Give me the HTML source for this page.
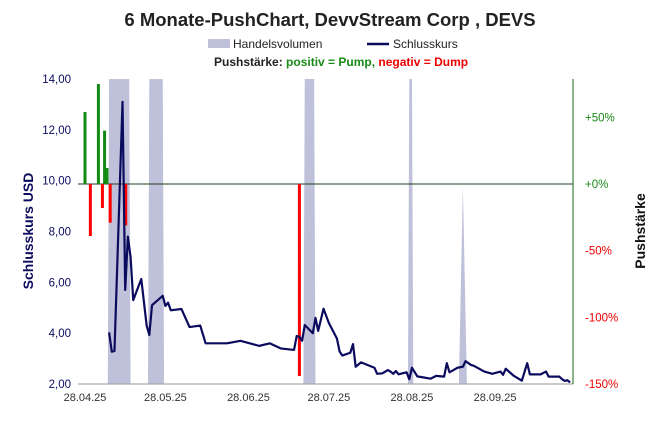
<!DOCTYPE html>
<html><head><meta charset="utf-8"><style>
body{margin:0;background:#fff;font-family:"Liberation Sans",sans-serif}
</style></head><body>
<svg id="chart" width="661" height="430" xmlns="http://www.w3.org/2000/svg" font-family="Liberation Sans, sans-serif">
<text x="330" y="26" text-anchor="middle" font-size="18.5" font-weight="bold" fill="#222">6 Monate-PushChart, DevvStream Corp , DEVS</text>
<g>
<rect x="208" y="39" width="22" height="9" fill="#bfc0da"/>
<text x="233" y="48" font-size="12" fill="#222">Handelsvolumen</text>
<line x1="367" y1="44" x2="389" y2="44" stroke="#0b0b5e" stroke-width="2.5"/>
<text x="393" y="48" font-size="12" fill="#222">Schlusskurs</text>
<text x="214" y="66" font-size="12" font-weight="bold"><tspan fill="#222">Pushstärke: </tspan><tspan fill="#1a8a1a">positiv = Pump,</tspan><tspan fill="#222"> </tspan><tspan fill="#ee0000">negativ = Dump</tspan></text>
</g>
<text transform="translate(33,231) rotate(-90)" text-anchor="middle" font-size="14" font-weight="bold" fill="#0b0b5e">Schlusskurs USD</text>
<text transform="translate(645,231) rotate(-90)" text-anchor="middle" font-size="14" font-weight="bold" fill="#111">Pushstärke</text>
<g id="vol"></g>
<g id="axes"></g>
<g id="push"></g>
<g id="line"></g>
</svg>
<script>
const xTickLabels=["28.04.25","28.05.25","28.06.25","28.07.25","28.08.25","28.09.25"];
const xTickDays=[0,30,61,91,122,153];
const yTickLabels=["2,00","4,00","6,00","8,00","10,00","12,00","14,00"];
const yTickValues=[2,4,6,8,10,12,14];
const rTickLabels=["+50%","+0%","-50%","-100%","-150%"];
const rTickValues=[50,0,-50,-100,-150];
const priceDays=[9,10,11,14,15,16,17,18,21,23,24,25,29,30,31,32,36,39,43,45,50,53,58,65,69,73,78,79,80,81,82,85,86,87,89,91,94,95,96,99,100,101,103,108,109,111,113,114,115,116,117,120,121,122,124,129,131,134,135,136,139,141,142,144,145,149,152,155,156,157,160,163,165,166,170,172,173,177,178,179,180,181];
const priceVals=[4.03,3.27,3.30,13.1,5.7,7.8,7.0,5.3,6.13,4.3,3.93,5.1,5.47,5.07,5.2,4.9,4.95,4.24,4.3,3.6,3.6,3.6,3.7,3.5,3.6,3.4,3.34,3.89,3.86,3.7,4.32,4.0,4.6,4.09,4.96,4.4,3.79,3.28,3.12,3.23,3.57,2.68,2.85,2.64,2.4,2.42,2.55,2.49,2.4,2.51,2.38,2.46,2.19,2.64,2.3,2.21,2.32,2.29,2.82,2.46,2.64,2.68,2.9,2.75,2.72,2.49,2.4,2.49,2.36,2.6,2.32,2.13,2.82,2.38,2.38,2.49,2.29,2.29,2.19,2.12,2.15,2.06];
const pushDays=[0,2,5,6.5,7.3,8.2,9.4,15.2,80];
const pushVals=[54,-39,75,-18,40,12,-29,-31,-144];
const volDays=[8.5,9,16.5,17,23.5,24,29,29.5,81.5,82,85.5,86,120.5,121,122,122.5,139.5,141,142.5];
const volVals=[0,1,1,0,0,1,1,0,0,1,1,0,0,1,1,0,0,0.65,0];
const X0=85,PX=2.68,L=78,R=573;
const x=d=>X0+d*PX;
const y=v=>384-(v-2)*(305/12);
const yr=p=>184-p*(200/150);
const NS="http://www.w3.org/2000/svg";
function mk(t,a,parent){const e=document.createElementNS(NS,t);for(const k in a)e.setAttribute(k,a[k]);parent.appendChild(e);return e;}
const vol=document.getElementById('vol'),axes=document.getElementById('axes'),push=document.getElementById('push'),line=document.getElementById('line');
let vp=`M${x(volDays[0])},384 `+volDays.map((d,i)=>`L${x(d)},${384-volVals[i]*305}`).join(' ')+` L${x(volDays[volDays.length-1])},384 Z`;
const va=mk('path',{d:vp,fill:'#bfc0da'},vol);


const bl=mk('line',{x1:L,y1:384,x2:R,y2:384,stroke:'#aaa','stroke-width':1.2},axes);


const zl=mk('line',{x1:L,y1:184,x2:R,y2:184,stroke:'#1f3f1f','stroke-width':1},axes);


const ra=mk('line',{x1:R,y1:79,x2:R,y2:384,stroke:'#1a6a1a','stroke-width':1},axes);


xTickLabels.forEach((t,i)=>{const e=mk('text',{x:x(xTickDays[i]),y:401,'text-anchor':'middle','font-size':11,fill:'#333'},axes);e.textContent=t;

});
yTickLabels.forEach((t,i)=>{const e=mk('text',{x:71,y:y(yTickValues[i])+4,'text-anchor':'end','font-size':11.5,fill:'#0b0b5e'},axes);e.textContent=t;

});
rTickLabels.forEach((t,i)=>{const e=mk('text',{x:585,y:yr(rTickValues[i])+4,'font-size':11.5,fill:rTickValues[i]>=0?'#1a8a1a':'#ee0000'},axes);e.textContent=t;

});
pushDays.forEach((d,i)=>{const v=pushVals[i];const y1=yr(Math.max(v,0)),y2=yr(Math.min(v,0));
const b=mk('rect',{x:x(d)-1.5,y:y1,width:3,height:y2-y1,fill:v>0?'#138a13':'#ff0000'},push);

});
const pl=mk('polyline',{points:priceDays.map((d,i)=>x(d)+','+y(priceVals[i])).join(' '),fill:'none',stroke:'#0b0b5e','stroke-width':2.2,'stroke-linejoin':'round'},line);


</script>
</body></html>
